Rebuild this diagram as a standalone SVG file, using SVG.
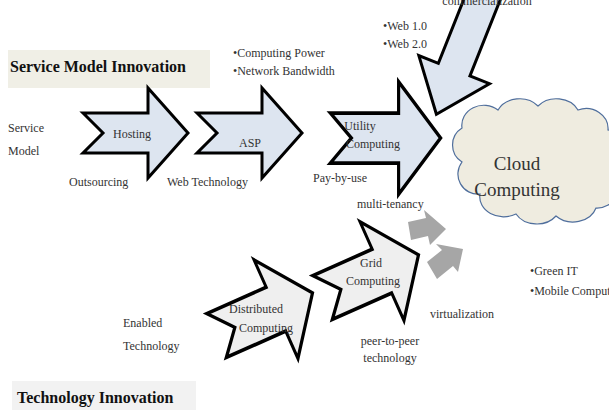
<svg xmlns="http://www.w3.org/2000/svg" width="609" height="410" viewBox="0 0 609 410">
<style>
text{font-family:"Liberation Serif","Times New Roman",serif;font-size:12px;fill:#333}
.c{text-anchor:middle}
.b{font-weight:bold;font-size:16px;fill:#111}
.blue{fill:#dde5f0;stroke:#000;stroke-width:3;stroke-linejoin:miter}
.grey{fill:#efefef;stroke:#000;stroke-width:3}
.ga{fill:#a6a6a6}
</style>
<defs>
<path id="arr" d="M-53,-20 L-33,0 L-53,20 L12,20 L12,45 L52,0 L12,-45 L12,-20 Z"/>
</defs>
<rect x="8" y="50" width="202" height="38" fill="#f0efe6"/>
<text x="10" y="72" class="b">Service Model Innovation</text>
<rect x="12" y="381" width="184" height="29" fill="#f2f2f2"/>
<text x="17" y="403" class="b">Technology Innovation</text>
<g id="connectors">
<path class="blue" d="M-110,-17 L5,-17 L5,-38 L53,0 L5,38 L5,17 L-110,17 Z" transform="translate(456,65) rotate(111.7)"/>
<polygon class="ga" points="408,222 426,218 424,210 446,229 430,245 428,236 411,240"/>
<polygon class="ga" points="427,262 442,250 436,244 463,249 458,272 453,266 437,279"/>
</g>
<g id="hosting"><use href="#arr" class="blue" transform="translate(136,133)"/><text x="132" y="138" class="c">Hosting</text></g>
<g id="asp"><use href="#arr" class="blue" transform="translate(250,133)"/><text x="250" y="147" class="c">ASP</text></g>
<g id="utility"><use href="#arr" class="blue" transform="translate(386,138) scale(1.05,1.25)"/><text x="360" y="130" class="c">Utility</text><text x="373" y="148" class="c">Computing</text></g>
<g id="distributed"><use href="#arr" class="grey" transform="translate(265,314) rotate(-24) scale(1,1.2)"/><text x="256" y="313" class="c">Distributed</text><text x="266" y="332" class="c">Computing</text></g>
<g id="grid"><use href="#arr" class="grey" transform="translate(371,276) rotate(-24) scale(1,1.2)"/><text x="371" y="267" class="c">Grid</text><text x="373" y="285" class="c">Computing</text></g>
<g id="cloud">
<path d="M462,128 a22,20 0 0 1 36,-18 a24,20 0 0 1 40,-4 a24,20 0 0 1 40,4 a22,20 0 0 1 30,20 a20,22 0 0 1 6,42 a22,22 0 0 1 -18,36 a24,20 0 0 1 -40,8 a24,20 0 0 1 -40,-2 a24,20 0 0 1 -36,-20 a20,20 0 0 1 -18,-32 a20,20 0 0 1 0,-34 Z" fill="#efece0" stroke="#4f6e9c" stroke-width="1.2"/>
<text x="517" y="170" class="c" style="font-size:19px">Cloud</text>
<text x="517" y="196" class="c" style="font-size:19px">Computing</text>
</g>
<text x="8" y="132">Service</text><text x="8" y="155">Model</text>
<text x="69" y="186">Outsourcing</text>
<text x="167" y="186">Web Technology</text>
<text x="313" y="182">Pay-by-use</text>
<text x="233" y="57">•Computing Power</text>
<text x="233" y="75">•Network Bandwidth</text>
<text x="383" y="30">•Web 1.0</text>
<text x="383" y="48">•Web 2.0</text>
<text x="487" y="5" class="c">commercialization</text>
<text x="357" y="208">multi-tenancy</text>
<text x="430" y="318">virtualization</text>
<text x="390" y="345" class="c">peer-to-peer</text>
<text x="390" y="362" class="c">technology</text>
<text x="123" y="327">Enabled</text>
<text x="123" y="350">Technology</text>
<text x="530" y="275">•Green IT</text>
<text x="530" y="295">•Mobile Computing</text>
</svg>
